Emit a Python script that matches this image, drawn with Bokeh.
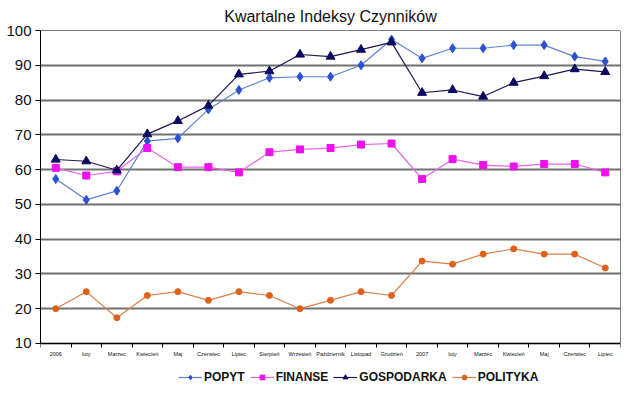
from bokeh.plotting import figure
from bokeh.models import FixedTicker, Legend, LegendItem, Range1d, LinearAxis
from bokeh.embed import file_html
from bokeh.resources import INLINE

months = ["2006", "luty", "Marzec", "Kwiecień", "Maj", "Czerwiec", "Lipiec",
          "Sierpień", "Wrzesień", "Październik", "Listopad", "Grudzień",
          "2007", "luty", "Marzec", "Kwiecień", "Maj", "Czerwiec", "Lipiec"]
popyt = [57.3, 51.3, 53.9, 68.2, 69.0, 77.3, 82.9, 86.4, 86.7, 86.7, 90.0, 97.4,
         92.0, 94.9, 94.9, 95.8, 95.8, 92.5, 91.1]
finanse = [60.5, 58.3, 59.5, 66.2, 60.7, 60.7, 59.2, 65.0, 65.8, 66.2, 67.2, 67.5,
           57.3, 63.0, 61.3, 60.9, 61.6, 61.6, 59.2]
gospodarka = [62.9, 62.4, 59.8, 70.2, 74.0, 78.4, 87.4, 88.3, 93.1, 92.5, 94.5, 96.6,
              82.1, 82.9, 81.0, 85.0, 86.9, 88.9, 88.1]
polityka = [20.0, 24.9, 17.4, 23.8, 24.9, 22.4, 24.9, 23.8, 20.0, 22.4, 24.9, 23.8,
            33.7, 32.8, 35.7, 37.2, 35.7, 35.7, 31.7]
y_ticks = [10, 20, 30, 40, 50, 60, 70, 80, 90, 100]
Y_MIN, Y_MAX = 10, 100

xs = list(range(len(months)))
FONT = "Liberation Sans"
X0, X1 = -0.5, len(months) - 0.5

p = figure(width=624, height=384, output_backend="svg", toolbar_location=None,
           x_range=Range1d(X0, X1), y_range=Range1d(-1.8, Y_MAX),
           min_border_left=40, min_border_right=4, min_border_top=30, min_border_bottom=0)

p.title.text = "Kwartalne Indeksy Czynników"
p.title.align = "center"
p.title.text_font = FONT
p.title.text_font_style = "normal"
p.title.text_font_size = "16px"
p.title.text_color = "#111111"
p.title.offset = -10
p.title.standoff = 11

p.background_fill_color = "white"
p.border_fill_color = "white"
p.outline_line_color = None

# x axis drawn at y = 10
p.xaxis.fixed_location = Y_MIN
p.xaxis.ticker = FixedTicker(ticks=xs, minor_ticks=[i - 0.5 for i in range(len(months) + 1)])
p.xaxis.major_label_overrides = {i: m for i, m in enumerate(months)}
p.xaxis.major_label_text_font = FONT
p.xaxis.major_label_text_font_size = "5.5px"
p.xaxis.major_label_text_color = "#111111"
p.xaxis.major_tick_line_color = None
p.xaxis.major_tick_out = 0
p.xaxis.major_tick_in = 0
p.xaxis.minor_tick_line_color = "black"
p.xaxis.minor_tick_out = 4
p.xaxis.minor_tick_in = 0
p.xaxis.axis_line_color = "black"
p.xaxis.major_label_standoff = 4

# y axis
p.yaxis.bounds = (Y_MIN, Y_MAX)
p.yaxis.ticker = FixedTicker(ticks=y_ticks, minor_ticks=[])
p.yaxis.major_label_text_font = FONT
p.yaxis.major_label_text_font_size = "15px"
p.yaxis.major_label_text_color = "#111111"
p.yaxis.major_tick_out = 5
p.yaxis.major_tick_in = 0
p.yaxis.major_tick_line_color = "black"
p.yaxis.axis_line_color = "black"
p.yaxis.major_label_standoff = 4

# frame lines: top and right
top_axis = LinearAxis(fixed_location=Y_MAX, major_label_text_font_size="0px",
                      major_tick_line_color=None, minor_tick_line_color=None,
                      axis_line_color="black", ticker=FixedTicker(ticks=[]))
p.add_layout(top_axis, "above")
right_axis = LinearAxis(fixed_location=X1, bounds=(Y_MIN, Y_MAX), major_label_text_font_size="0px",
                        major_tick_line_color=None, minor_tick_line_color=None,
                        axis_line_color="black", ticker=FixedTicker(ticks=[]))
p.add_layout(right_axis, "right")

p.xgrid.grid_line_color = None
p.ygrid.grid_line_color = "#707070"
p.ygrid.grid_line_width = 2

series = [
    ("POPYT", popyt, "#5f82d8", "#2a52d0", "diamond", 9),
    ("FINANSE", finanse, "#e866e8", "#ee11ee", "square", 7),
    ("GOSPODARKA", gospodarka, "#1a1a50", "#0a0a60", "triangle", 9),
    ("POLITYKA", polityka, "#d9804a", "#e0601a", "circle", 6),
]
items = []
for name, vals, lc, mc, marker, size in series:
    ln = p.line(xs, vals, line_color=lc, line_width=1.2)
    sc = p.scatter(xs, vals, marker=marker, size=size, fill_color=mc, line_color=mc)
    items.append(LegendItem(label=name, renderers=[ln, sc]))

legend = Legend(items=items, orientation="horizontal", location=(138, 0),
                label_text_font=FONT, label_text_font_style="bold",
                label_text_font_size="12px", label_text_color="#111111",
                border_line_color=None, background_fill_alpha=0,
                glyph_width=24, glyph_height=12, spacing=5, padding=2,
                label_standoff=2, margin=0, label_height=12)
p.add_layout(legend)

open("out.html", "w").write(file_html(p, INLINE))
